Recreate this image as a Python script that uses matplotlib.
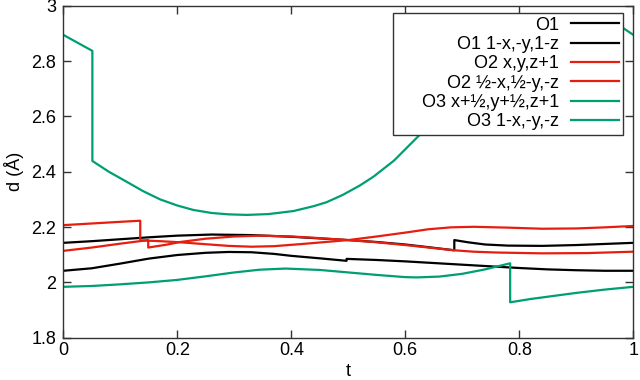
import matplotlib
matplotlib.use("Agg")
import matplotlib.pyplot as plt
from matplotlib.patches import Rectangle
from matplotlib.ticker import FormatStrFormatter

plt.rcParams["font.family"] = ["Liberation Sans", "DejaVu Sans"]

# O1 (black)
t_o1a = [0, 0.05, 0.1, 0.15, 0.2, 0.26, 0.33, 0.4, 0.45, 0.5, 0.55, 0.6, 0.65, 0.686,
         0.686, 0.71, 0.74, 0.78, 0.84, 0.9, 0.95, 1.0]
d_o1a = [2.143, 2.149, 2.156, 2.163, 2.169, 2.173, 2.171, 2.165, 2.159, 2.153, 2.146, 2.137, 2.125, 2.116,
         2.153, 2.145, 2.137, 2.133, 2.132, 2.135, 2.139, 2.143]
t_o1b = [0, 0.05, 0.1, 0.15, 0.2, 0.25, 0.29, 0.33, 0.37, 0.4, 0.45, 0.497,
         0.497, 0.55, 0.6, 0.65, 0.7, 0.75, 0.8, 0.85, 0.9, 0.95, 1.0]
d_o1b = [2.042, 2.051, 2.068, 2.086, 2.099, 2.107, 2.110, 2.109, 2.103, 2.096, 2.087, 2.078,
         2.085, 2.081, 2.076, 2.070, 2.064, 2.058, 2.052, 2.047, 2.044, 2.042, 2.042]

# O2 (red)
t_o2a = [0, 0.05, 0.1, 0.135, 0.135, 0.17, 0.205, 0.25, 0.29, 0.33, 0.37, 0.42, 0.46, 0.5,
         0.55, 0.6, 0.64, 0.68, 0.72, 0.78, 0.84, 0.9, 0.95, 1.0]
d_o2a = [2.207, 2.213, 2.219, 2.223, 2.152, 2.149, 2.145, 2.138, 2.132, 2.129, 2.131, 2.139, 2.146, 2.153,
         2.166, 2.180, 2.192, 2.199, 2.201, 2.198, 2.194, 2.195, 2.199, 2.204]
t_o2b = [0, 0.05, 0.1, 0.149, 0.149, 0.18, 0.205, 0.25, 0.3, 0.345, 0.4, 0.45, 0.5,
         0.55, 0.6, 0.65, 0.686, 0.72, 0.76, 0.84, 0.92, 1.0]
d_o2b = [2.114, 2.126, 2.140, 2.153, 2.126, 2.136, 2.146, 2.158, 2.166, 2.169, 2.166, 2.160, 2.153,
         2.145, 2.135, 2.124, 2.116, 2.111, 2.108, 2.105, 2.106, 2.111]

# O3 (green)
t_o3a = [0, 0.051, 0.051, 0.08, 0.111, 0.14, 0.17, 0.2, 0.228, 0.26, 0.29, 0.322, 0.36,
         0.404, 0.44, 0.462, 0.49, 0.52, 0.544, 0.58, 0.626, 0.66, 0.7, 0.75, 0.8, 0.85,
         0.9, 0.95, 0.982, 1.0]
d_o3a = [2.895, 2.837, 2.439, 2.400, 2.364, 2.330, 2.300, 2.278, 2.262, 2.251, 2.246, 2.244, 2.247,
         2.258, 2.276, 2.290, 2.316, 2.350, 2.382, 2.440, 2.535, 2.600, 2.680, 2.760, 2.830, 2.880,
         2.915, 2.930, 2.920, 2.895]
t_o3b = [0, 0.05, 0.1, 0.15, 0.2, 0.25, 0.3, 0.345, 0.39, 0.45, 0.5, 0.55, 0.6, 0.62,
         0.66, 0.7, 0.74, 0.784, 0.784, 0.82, 0.86, 0.9, 0.95, 1.0]
d_o3b = [1.984, 1.987, 1.993, 2.000, 2.009, 2.022, 2.036, 2.046, 2.050, 2.045, 2.036, 2.027, 2.019, 2.018,
         2.021, 2.031, 2.047, 2.069, 1.928, 1.940, 1.951, 1.962, 1.974, 1.984]

labels = ["O1", "O1 1-x,-y,1-z", "O2 x,y,z+1", "O2 ½-x,½-y,-z",
          "O3 x+½,y+½,z+1", "O3 1-x,-y,-z"]
series = [(t_o1a, d_o1a), (t_o1b, d_o1b), (t_o2a, d_o2a),
          (t_o2b, d_o2b), (t_o3a, d_o3a), (t_o3b, d_o3b)]
colors = ["#000000", "#000000", "#e51e10", "#e51e10", "#009e73", "#009e73"]

fig = plt.figure(figsize=(6.4, 3.8), dpi=100)
ax = fig.add_axes([0.0989, 0.1113, 0.8906, 0.8734])

for (t, d), lab, c in zip(series, labels, colors):
    ax.plot(t, d, color=c, lw=1.6, label=lab)

ax.set_xlim(0, 1)
ax.set_ylim(1.8, 3)
ax.set_xticks([0, 0.2, 0.4, 0.6, 0.8, 1])
ax.set_yticks([1.8, 2, 2.2, 2.4, 2.6, 2.8, 3])
ax.xaxis.set_major_formatter(FormatStrFormatter("%g"))
ax.yaxis.set_major_formatter(FormatStrFormatter("%g"))
ax.tick_params(direction="in", length=6, width=1, top=True, right=True,
               labelsize=13, color="#333333")
ax.tick_params(axis="x", pad=3)
ax.tick_params(axis="y", pad=5)
for sp in ax.spines.values():
    sp.set_color("#333333")
    sp.set_linewidth(1)

ax.set_xlabel("t", fontsize=13, labelpad=3)
ax.set_ylabel("d (Å)", fontsize=13, labelpad=5)

# gnuplot-style key box: wider left padding than matplotlib's frame allows
key_box = Rectangle((0.578, 0.611), 0.404, 0.367, transform=ax.transAxes,
                    facecolor="white", edgecolor="#333333", lw=1, zorder=4)
ax.add_patch(key_box)

leg = ax.legend(loc="upper right", bbox_to_anchor=(0.982, 0.978), fontsize=13,
                markerfirst=False, frameon=False,
                handlelength=2.7, handletextpad=0.65, labelspacing=0.13,
                borderpad=0.2, borderaxespad=0)
leg.set_zorder(5)

fig.savefig("out.png", dpi=100)
